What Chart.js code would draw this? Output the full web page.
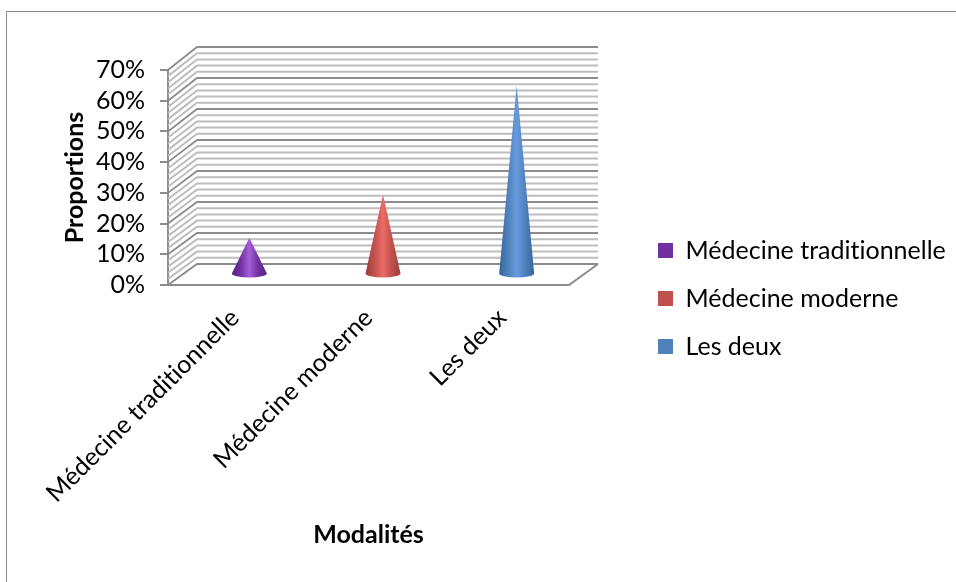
<!DOCTYPE html>
<html>
<head>
<meta charset="utf-8">
<script src="https://cdn.jsdelivr.net/npm/chart.js@4"></script>
<style>
    body { margin: 0; background: #fff; }
    #frame { position: absolute; left: 6px; top: 11px; width: 950px; height: 571px; border-top: 1.5px solid #8a8a8a; border-left: 1.5px solid #8a8a8a; box-sizing: border-box; }
    #box { position: absolute; left: 0; top: 0; width: 956px; height: 582px; }
</style>
</head>
<body>
<div id="frame"></div>
<div id="box"><canvas id="chart"></canvas></div>
<script>
const categories = ["Médecine traditionnelle", "Médecine moderne", "Les deux"];
const values = [12, 26, 61.5];
const yTicks = [0, 10, 20, 30, 40, 50, 60, 70];
const minorStep = 2;
const legendColors = ["#7030a0", "#c0504d", "#4f81bd"];
const coneColors = [
    ["#552380", "#7030a0", "#a45fd8"],
    ["#9a3f3c", "#c0504d", "#ec6c66"],
    ["#35659c", "#4f81bd", "#6699dc"]
];

const depthX = 29;
const fontName = "Lato, 'Open Sans', sans-serif";

// dessine le mur du fond, le mur gauche et le sol
const wallsPlugin = {
    id: "walls",
    beforeDraw(chart) {
        // pas de ligatures "ti" dans les textes
        chart.ctx.textRendering = "optimizeSpeed";
    },
    beforeDatasetsDraw(chart) {
        const { ctx, chartArea, scales } = chart;
        const left = chartArea.left, right = chartArea.right;
        const y = scales.y;
        const backY = v => y.getPixelForValue(v) - 21 - (v / 70) * 2;
        ctx.save();
        for (let v = 0; v <= 70; v += minorStep) {
            const major = yTicks.includes(v);
            ctx.strokeStyle = major ? "#8c8c8c" : "#bdbdbd";
            ctx.lineWidth = major ? 1.8 : 2;
            ctx.beginPath();
            ctx.moveTo(left, y.getPixelForValue(v));
            ctx.lineTo(left + depthX, backY(v));
            ctx.lineTo(right + depthX, backY(v));
            ctx.stroke();
        }
        // sol
        ctx.strokeStyle = "#8c8c8c";
        ctx.lineWidth = 2;
        ctx.beginPath();
        ctx.moveTo(left, y.getPixelForValue(0));
        ctx.lineTo(right, y.getPixelForValue(0));
        ctx.lineTo(right + depthX, backY(0));
        ctx.stroke();
        ctx.restore();
    }
};

// chaque barre du dataset est redessinée en cône
const conePlugin = {
    id: "cones",
    afterDatasetsDraw(chart) {
        const { ctx } = chart;
        const rx = 17.5, ry = 4;
        chart.getDatasetMeta(0).data.forEach((bar, i) => {
            const cx = bar.x + depthX / 2;
            const base = bar.base - 10.5;
            const top = bar.y - 10.5;
            const grad = ctx.createLinearGradient(cx - rx, 0, cx + rx, 0);
            grad.addColorStop(0, coneColors[i][0]);
            grad.addColorStop(0.25, coneColors[i][1]);
            grad.addColorStop(0.5, coneColors[i][2]);
            grad.addColorStop(0.75, coneColors[i][1]);
            grad.addColorStop(1, coneColors[i][0]);
            ctx.save();
            ctx.fillStyle = grad;
            ctx.beginPath();
            ctx.moveTo(cx, top);
            ctx.lineTo(cx + rx, base);
            ctx.ellipse(cx, base, rx, ry, 0, 0, Math.PI);
            ctx.closePath();
            ctx.fill();
            ctx.restore();
        });
    }
};

// légende placée à la main à droite du graphique
const legendMove = {
    id: "legendMove",
    afterLayout(chart) {
        const legend = chart.legend;
        legend.left = 635;
        legend.right = 956;
        legend.top = 215;
        legend.bottom = 400;
        legend.adjustHitBoxes();
    }
};

new Chart(document.getElementById("chart"), {
    type: "bar",
    data: {
        labels: categories,
        datasets: [{
            data: values,
            backgroundColor: "rgba(0,0,0,0)",
            barPercentage: 0.26,
            categoryPercentage: 1
        }]
    },
    plugins: [wallsPlugin, conePlugin, legendMove],
    options: {
        responsive: true,
        maintainAspectRatio: false,
        animation: false,
        layout: { padding: { left: 60, top: 70, right: 387, bottom: 32 } },
        plugins: {
            tooltip: { enabled: false },
            legend: {
                position: "chartArea",
                align: "start",
                labels: {
                    color: "#000",
                    font: { family: fontName, size: 25 },
                    boxWidth: 15,
                    boxHeight: 15,
                    padding: 23,
                    generateLabels: () => categories.map((c, i) => ({
                        text: c,
                        fillStyle: legendColors[i],
                        strokeStyle: legendColors[i],
                        lineWidth: 0,
                        datasetIndex: 0,
                        index: i
                    }))
                }
            }
        },
        scales: {
            x: {
                afterFit: s => { s.height = 265; },
                grid: { display: false, drawTicks: false },
                border: { display: false },
                ticks: {
                    color: "#000",
                    font: { family: fontName, size: 25 },
                    minRotation: 45,
                    maxRotation: 45,
                    padding: 18,
                    autoSkip: false
                },
                title: {
                    display: true,
                    text: "Modalités",
                    color: "#000",
                    font: { family: fontName, size: 25, weight: "bold" },
                    padding: { top: 0, bottom: 0 }
                }
            },
            y: {
                min: 0,
                max: 70,
                afterFit: s => { s.width = 108; },
                grid: {
                    drawOnChartArea: false,
                    color: "#8c8c8c",
                    lineWidth: 2,
                    tickLength: 8
                },
                border: { display: true, color: "#8c8c8c", width: 2 },
                ticks: {
                    color: "#000",
                    font: { family: fontName, size: 25 },
                    stepSize: 10,
                    autoSkip: false,
                    padding: 15,
                    callback: v => v + "%"
                },
                title: {
                    display: true,
                    text: "Proportions",
                    color: "#000",
                    font: { family: fontName, size: 25, weight: "bold" },
                    padding: { top: 0, bottom: 0 }
                }
            }
        }
    }
});
</script>
</body>
</html>
